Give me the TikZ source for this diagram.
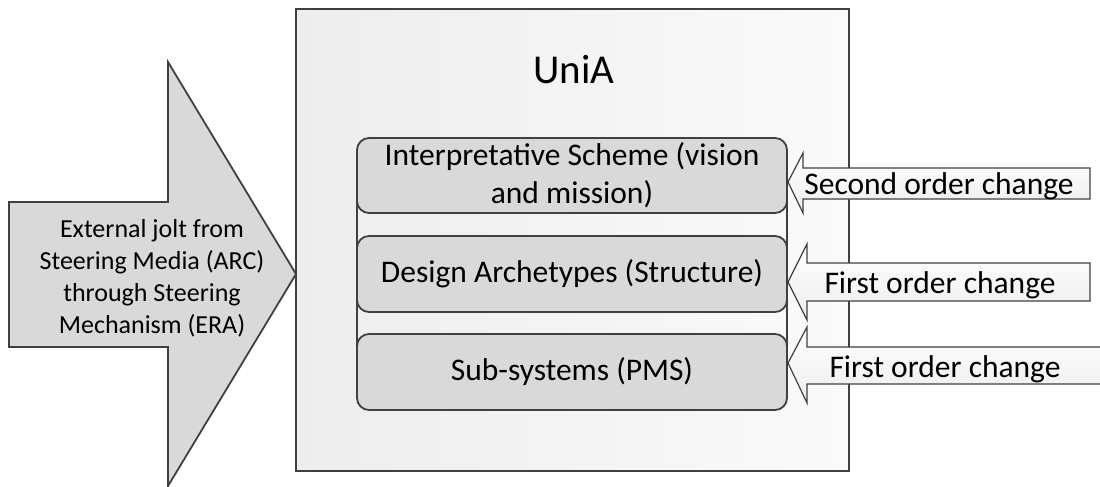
\documentclass[tikz,border=0pt]{standalone}
\usepackage{fontspec}
\setmainfont{Carlito}
\definecolor{edge}{HTML}{404040}
\definecolor{boxfill}{HTML}{D9D9D9}
\pgfdeclarelayer{frame}
\pgfsetlayers{frame,main}
\tikzset{
  mainbox/.style={draw=edge, line width=1.7pt, left color=black!7, right color=black!2, inner sep=0pt, outer sep=0pt},
  layerbox/.style={draw=edge, line width=1.8pt, fill=boxfill, rounded corners=12pt, minimum width=430pt, minimum height=76pt, inner sep=0pt, outer sep=0pt, align=center, font=\fontsize{31.5}{38}\selectfont},
  bigarrow/.style={draw=edge, line width=1.8pt, fill=boxfill, line join=miter},
  changearrow/.style={draw=edge, line width=1.2pt, top color=white, bottom color=black!7},
  changetext/.style={font=\fontsize{31.5}{38}\selectfont, inner sep=0pt, anchor=base},
  jolttext/.style={font=\fontsize{26}{32}\selectfont, align=center, inner sep=0pt},
}
\begin{document}
\begin{tikzpicture}[x=1pt,y=-1pt]
\useasboundingbox (0,0) rectangle (1100,487);
\clip (0,0) rectangle (1100,487);
\begin{pgfonlayer}{frame}
\node[mainbox, minimum width=553pt, minimum height=462pt] (unia) at (572.5,240) {};
\end{pgfonlayer}
\node[font=\fontsize{41}{49}\selectfont, anchor=base, inner sep=0pt] (title) at (574,83) {UniA};
\node[layerbox, minimum height=75pt] (b1) at (572,175.5) {Interpretative Scheme (vision\\and mission)};
\node[layerbox] (b2) at (572,274) {Design Archetypes (Structure)};
\node[layerbox] (b3) at (572,372) {Sub-systems (PMS)};
\begin{pgfonlayer}{frame}
\draw[edge, line width=1.8pt] (b1.west) -- (b3.west) (b1.east) -- (b3.east);
\end{pgfonlayer}
% external jolt arrow
\draw[bigarrow] (9,202) -- (168,202) -- (168,62) -- (296,274) -- (168,486) -- (168,347) -- (9,347) -- cycle;
\node[jolttext] (jolt) at (152,278) {External jolt from\\Steering Media (ARC)\\through Steering\\Mechanism (ERA)};
% change arrows
\draw[changearrow] (788,182) -- (803,153) -- (803,168) -- (1090,168) -- (1090,199) -- (803,199) -- (803,213) -- cycle;
\draw[changearrow] (788,282) -- (807,244) -- (807,263) -- (1090,263) -- (1090,301) -- (807,301) -- (807,320) -- cycle;
\draw[changearrow] (788,363) -- (807,327) -- (807,347) -- (1115,347) -- (1115,384) -- (807,384) -- (807,403) -- cycle;
\node[changetext] (c1) at (939,194) {Second order change};
\node[changetext] (c2) at (940,293) {First order change};
\node[changetext] (c3) at (945,377) {First order change};
\end{tikzpicture}
\end{document}
